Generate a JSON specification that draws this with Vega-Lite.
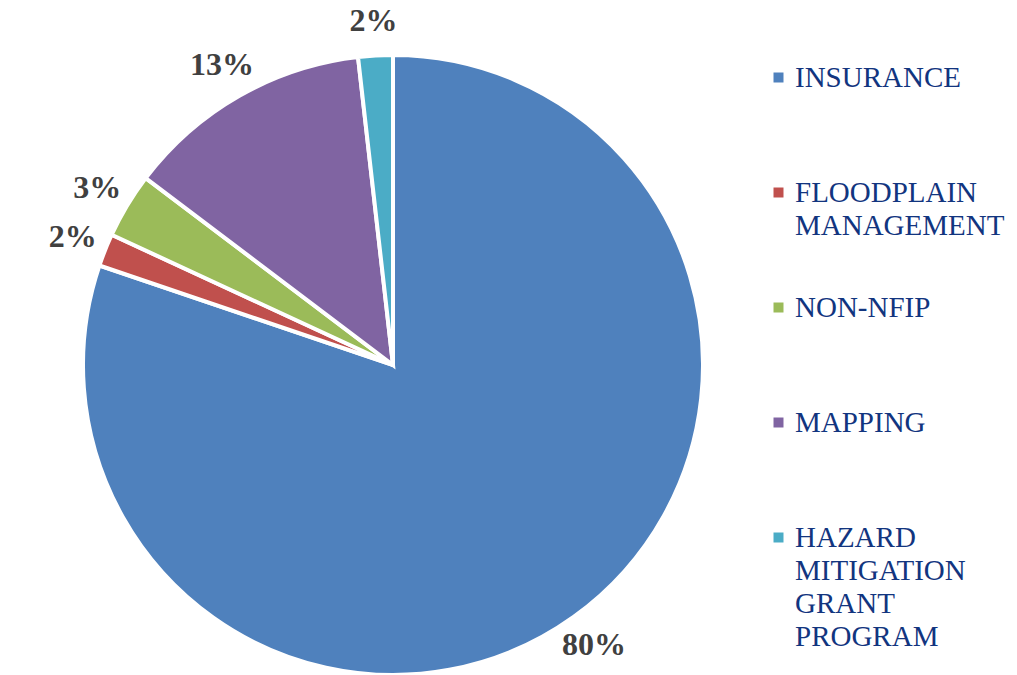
{
  "$schema": "https://vega.github.io/schema/vega-lite/v6.json",
  "autosize": "none",
  "padding": {"left": 0, "top": 55, "right": 231, "bottom": 0},
  "width": 786,
  "height": 620,
  "background": "white",
  "data": {
    "values": [
      {"cat": "INSURANCE", "value": 80.2, "order": 1, "label": "80%"},
      {"cat": "FLOODPLAIN MANAGEMENT", "value": 1.7, "order": 2, "label": "2%"},
      {"cat": "NON-NFIP", "value": 3.4, "order": 3, "label": "3%"},
      {"cat": "MAPPING", "value": 12.9, "order": 4, "label": "13%"},
      {"cat": "HAZARD MITIGATION GRANT PROGRAM", "value": 1.8, "order": 5, "label": "2%"}
    ]
  },
  "encoding": {
    "theta": {"field": "value", "type": "quantitative", "stack": true},
    "order": {"field": "order", "type": "quantitative"}
  },
  "layer": [
    {
      "mark": {"type": "arc", "radius": 310, "stroke": "white", "strokeWidth": 4},
      "encoding": {
        "color": {
          "field": "cat",
          "type": "nominal",
          "scale": {
            "domain": ["INSURANCE", "FLOODPLAIN MANAGEMENT", "NON-NFIP", "MAPPING", "HAZARD MITIGATION GRANT PROGRAM"],
            "range": ["#4F81BD", "#C0504D", "#9BBB59", "#8064A2", "#4BACC6"]
          },
          "legend": {
            "title": null,
            "orient": "none",
            "legendX": 764,
            "legendY": 8,
            "padding": 0,
            "symbolType": "square",
            "symbolSize": 100,
            "symbolStrokeWidth": 0,
            "labelFont": "Times New Roman, Liberation Serif, serif",
            "labelFontSize": 29,
            "labelColor": "#12357F",
            "labelOffset": 2,
            "labelLimit": 400,
            "labelBaseline": "top",
            "rowPadding": 52,
            "labelExpr": "datum.label == 'FLOODPLAIN MANAGEMENT' ? ['FLOODPLAIN','MANAGEMENT'] : datum.label == 'HAZARD MITIGATION GRANT PROGRAM' ? ['HAZARD','MITIGATION','GRANT','PROGRAM'] : [datum.label, '']"
          }
        }
      }
    },
    {
      "mark": {"type": "text", "radius": 345, "font": "Times New Roman, Liberation Serif, serif", "fontWeight": "bold", "fontSize": 32, "fill": "#404040"},
      "encoding": {
        "text": {"field": "label", "type": "nominal"},
        "detail": {"field": "cat", "type": "nominal"}
      }
    }
  ],
  "config": {
    "view": {"stroke": null},
    "style": {"guide-label": {"lineHeight": 33, "dy": -14}}
  }
}
